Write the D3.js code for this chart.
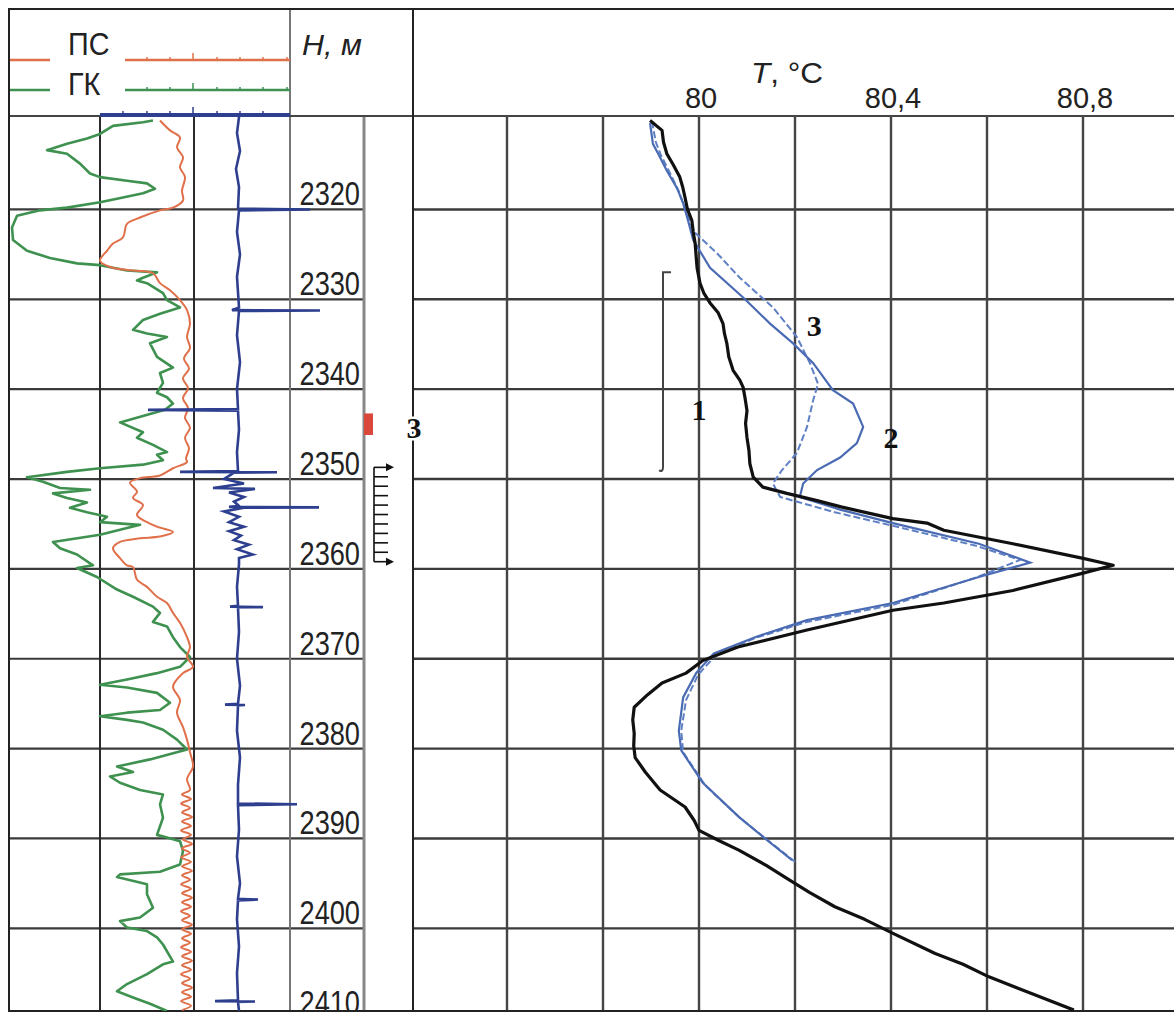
<!DOCTYPE html>
<html>
<head>
<meta charset="utf-8">
<title>Термограммы</title>
<script src="https://cdn.jsdelivr.net/npm/d3@7"></script>
<style>
  body { margin: 0; background: #fff; }
  svg text { font-family: "Liberation Sans", Arial, sans-serif; fill: #222; }
  svg text.num { font-family: "Liberation Serif", serif; font-weight: bold; fill: #111; }
</style>
</head>
<body>
<div id="chart"></div>
<script>

// depth grid (m) and temperature grid (°C)
var depthTicks = [2320, 2330, 2340, 2350, 2360, 2370, 2380, 2390, 2400, 2410];
var tempGrid = [79.6, 79.8, 80, 80.2, 80.4, 80.6, 80.8];
var tempLabels = [80, 80.4, 80.8];
var logGrid = [9.1, 18.5];

// ГК (gamma log), relative units, [depth, value]
var gk = [[2310.1,14.4],[2310.3,13.4],[2310.7,10.4],[2311.6,9.1],[2312.1,7.8],[2312.7,5.8],[2313.4,3.8],
  [2313.8,5.8],[2314.9,7.1],[2316.0,8.1],[2316.4,9.1],[2316.8,11.8],[2317.1,13.8],[2317.7,14.6],[2318.2,13.4],
  [2318.8,10.8],[2319.2,9.1],[2319.8,5.8],[2320.1,3.1],[2320.7,0.8],[2322.0,0.3],[2323.4,0.4],[2324.6,1.8],
  [2325.4,4.1],[2326.0,6.8],[2326.2,9.1],[2326.8,11.8],[2327.0,14.8],[2327.6,13.4],[2327.9,12.8],[2328.2,13.8],
  [2329.3,15.4],[2330.1,15.8],[2330.9,17.1],[2331.6,15.1],[2332.3,13.4],[2333.4,12.4],[2333.8,13.8],[2334.2,15.8],
  [2334.9,14.1],[2336.4,14.8],[2337.6,16.4],[2338.2,15.1],[2339.3,15.4],[2340.4,14.8],[2340.9,15.8],[2341.6,16.4],
  [2342.3,15.6],[2343.7,11.1],[2344.8,13.4],[2345.4,12.8],[2346.2,14.4],[2347.0,15.8],[2347.3,14.8],[2347.9,15.4],
  [2348.4,13.4],[2348.8,9.1],[2349.2,5.8],[2349.8,1.8],[2350.3,3.4],[2351.0,5.1],[2351.2,8.1],[2351.6,4.4],
  [2352.1,5.8],[2352.6,7.8],[2353.2,6.1],[2353.7,7.8],[2354.2,9.8],[2354.8,9.1],[2355.1,13.1],[2356.2,9.1],
  [2357.0,4.4],[2357.7,5.1],[2358.4,6.8],[2359.6,8.4],[2359.9,6.8],[2360.9,8.8],[2362.3,10.8],[2363.1,12.4],
  [2364.2,14.4],[2364.9,15.1],[2365.9,14.4],[2366.4,15.8],[2367.6,16.4],[2368.7,17.1],[2369.8,18.1],[2370.9,17.1],
  [2371.6,14.8],[2372.3,11.8],[2372.9,9.1],[2373.2,11.8],[2373.8,14.8],[2374.9,16.1],[2375.7,15.1],[2376.0,11.8],
  [2376.4,9.1],[2376.8,11.8],[2377.1,13.4],[2377.9,15.4],[2379.0,16.8],[2380.1,17.8],[2381.2,14.1],[2382.0,10.8],
  [2382.6,12.4],[2383.1,10.1],[2383.8,11.1],[2384.6,13.1],[2385.1,15.4],[2386.2,15.1],[2387.7,15.4],[2389.6,14.8],
  [2389.9,15.8],[2390.3,17.1],[2391.4,17.4],[2392.9,17.1],[2393.7,15.1],[2394.0,11.1],[2394.3,10.8],[2395.1,13.8],
  [2396.2,13.8],[2397.7,14.4],[2398.8,13.1],[2399.2,11.1],[2399.9,11.8],[2400.3,13.8],[2401.0,14.8],[2401.8,15.4],
  [2403.7,16.4],[2404.0,15.4],[2405.1,13.8],[2406.2,11.8],[2407.0,10.8],[2407.7,12.4],[2408.4,14.1],[2409.2,15.8]];

// ПС (SP log), relative units, [depth, value]
var ps = [[2310.1,15.1],[2311.2,16.1],[2312.0,17.1],[2313.1,16.8],[2314.2,17.4],[2315.3,17.1],[2316.4,17.6],
  [2317.9,17.3],[2319.0,17.4],[2319.8,16.4],[2320.1,15.1],[2320.9,13.1],[2321.6,11.8],[2323.1,11.4],[2323.8,10.4],
  [2324.6,9.8],[2325.7,9.1],[2326.4,10.1],[2326.8,12.4],[2327.1,14.4],[2328.2,15.1],[2329.0,16.1],[2330.1,17.1],
  [2331.2,17.8],[2332.7,18.1],[2334.2,17.8],[2335.4,18.1],[2336.6,17.5],[2337.7,18.0],[2338.8,17.4],[2339.9,17.9],
  [2341.0,17.4],[2342.1,17.9],[2343.2,17.6],[2344.3,18.1],[2345.4,17.6],[2346.6,18.0],[2347.7,17.7],[2348.1,17.8],
  [2348.8,16.4],[2349.6,15.1],[2349.9,13.1],[2350.4,12.1],[2351.4,12.8],[2352.1,12.4],[2352.9,13.4],[2354.0,12.8],
  [2354.8,13.8],[2355.3,14.8],[2355.9,16.4],[2356.4,15.1],[2356.6,13.1],[2357.0,11.1],[2357.7,10.4],[2358.8,11.1],
  [2359.6,11.8],[2359.8,12.4],[2361.2,12.8],[2362.0,13.8],[2363.1,14.8],[2363.8,15.8],[2364.9,16.4],[2366.0,17.1],
  [2367.6,17.8],[2368.7,18.1],[2369.8,17.8],[2370.9,18.4],[2371.6,17.4],[2373.1,16.4],[2374.6,17.1],[2376.0,16.8],
  [2377.6,17.4],[2379.0,17.8],[2380.4,18.1],[2382.0,18.4],[2383.4,17.8],[2384.6,18.1],[2385.1,17.3],[2385.6,18.2],
  [2386.1,17.2],[2386.6,18.1],[2387.1,17.3],[2387.6,18.3],[2388.1,17.3],[2388.6,18.2],[2389.1,17.2],[2389.6,18.2],
  [2390.1,17.4],[2390.6,18.3],[2391.1,17.3],[2391.6,18.1],[2392.1,17.2],[2392.6,18.2],[2393.1,17.3],[2393.6,18.3],
  [2394.1,17.3],[2394.6,18.1],[2395.1,17.2],[2395.6,18.2],[2396.1,17.3],[2396.6,18.3],[2397.1,17.3],[2397.6,18.2],
  [2398.1,17.2],[2398.6,18.1],[2399.1,17.3],[2399.6,18.3],[2400.1,17.3],[2400.6,18.2],[2401.1,17.3],[2401.6,18.1],
  [2402.1,17.2],[2402.6,18.2],[2403.1,17.3],[2403.6,18.3],[2404.1,17.3],[2404.6,18.2],[2405.1,17.2],[2405.6,18.1],
  [2406.1,17.3],[2406.6,18.3],[2407.1,17.3],[2407.6,18.2],[2408.1,17.2],[2408.6,18.2],[2409.1,17.3]];

// third log (blue), relative units, [depth, value]
var bk = [[2309.7,23.0],[2311.5,22.8],[2313.5,23.1],[2315.5,22.7],[2317.5,23.0],[2319.9,22.9],[2320.0,30.1],
  [2320.1,23.0],[2322.5,22.8],[2325.0,23.1],[2327.5,22.8],[2330.9,23.0],[2331.2,22.3],[2331.25,31.1],[2331.3,23.0],
  [2334.0,22.8],[2337.0,23.1],[2340.0,22.8],[2342.2,22.9],[2342.3,13.9],[2342.4,22.9],[2344.5,23.0],[2347.0,22.8],
  [2349.1,22.9],[2349.2,17.1],[2349.25,26.8],[2349.3,22.5],[2350.0,21.5],[2350.5,23.5],[2351.0,20.4],[2351.1,24.6],
  [2351.5,22.0],[2352.0,23.5],[2352.5,22.5],[2353.0,23.0],[2353.1,22.0],[2353.15,31.0],[2353.2,23.5],[2353.6,21.5],
  [2354.2,23.0],[2354.8,22.0],[2355.3,23.5],[2355.8,22.0],[2356.3,23.2],[2356.8,22.5],[2357.3,24.0],[2357.8,22.8],
  [2358.4,24.4],[2358.8,23.0],[2359.5,23.0],[2362.0,22.8],[2364.1,22.9],[2364.2,22.1],[2364.25,25.4],[2364.3,22.9],
  [2367.0,23.0],[2370.0,22.8],[2373.0,23.1],[2375.0,22.9],[2375.1,21.6],[2375.15,23.6],[2375.2,22.9],[2378.0,22.8],
  [2381.0,23.1],[2384.0,22.9],[2386.1,22.9],[2386.2,28.8],[2386.3,22.9],[2389.0,23.0],[2392.0,22.8],[2395.0,23.1],
  [2396.7,22.9],[2396.8,24.9],[2396.9,22.9],[2399.0,22.8],[2402.0,23.0],[2405.0,22.8],[2408.0,22.9],[2408.1,20.6],
  [2408.15,24.6],[2408.2,22.9],[2409.2,23.0]];

// thermograms, [depth, T]
var curve1 = [[2310.1,79.898],[2311.2,79.923],[2312.5,79.926],[2313.8,79.933],[2315.0,79.946],[2316.4,79.960],
  [2317.5,79.966],[2318.7,79.971],[2320.0,79.976],[2321.2,79.985],[2322.5,79.988],[2323.8,79.992],[2325.2,79.994],
  [2326.5,79.996],[2328.2,80.002],[2329.3,80.010],[2330.4,80.023],[2331.5,80.040],[2332.7,80.050],[2333.8,80.053],
  [2334.9,80.058],[2336.4,80.062],[2337.9,80.071],[2339.0,80.085],[2339.8,80.092],[2341.0,80.096],[2342.4,80.100],
  [2343.8,80.097],[2345.4,80.100],[2346.8,80.104],[2348.3,80.106],[2349.8,80.113],[2350.9,80.133],[2351.6,80.183],
  [2352.4,80.246],[2353.1,80.296],[2354.4,80.404],[2354.9,80.475],[2355.7,80.510],[2357.2,80.654],[2358.8,80.798],
  [2359.6,80.863],[2360.5,80.798],[2362.4,80.654],[2363.8,80.510],[2364.6,80.404],[2366.8,80.225],[2368.7,80.081],
  [2370.2,80.008],[2371.6,79.973],[2372.7,79.923],[2374.0,79.893],[2375.4,79.865],[2376.8,79.862],[2378.3,79.865],
  [2379.7,79.864],[2381.0,79.867],[2382.6,79.888],[2384.6,79.919],[2386.5,79.971],[2388.0,79.990],[2389.1,80.000],
  [2390.2,80.040],[2391.3,80.083],[2393.0,80.140],[2394.6,80.188],[2396.0,80.230],[2397.6,80.283],[2399.0,80.345],
  [2400.5,80.402],[2402.8,80.492],[2404.0,80.550],[2405.4,80.604],[2407.2,80.690],[2409.1,80.781]];
var curve2 = [[2310.4,79.898],[2312.7,79.904],[2313.8,79.915],[2315.7,79.933],[2317.6,79.954],[2319.3,79.967],
  [2321.2,79.977],[2323.4,79.988],[2326.5,80.023],[2329.8,80.092],[2332.7,80.148],[2334.9,80.196],[2337.1,80.238],
  [2340.1,80.279],[2341.6,80.321],[2344.2,80.342],[2346.0,80.329],[2347.6,80.294],[2349.0,80.246],[2350.5,80.217],
  [2352.0,80.210],[2353.4,80.294],[2354.9,80.404],[2357.2,80.583],[2359.3,80.690],[2360.9,80.583],[2363.8,80.404],
  [2365.7,80.225],[2367.6,80.117],[2369.4,80.031],[2371.6,79.994],[2374.3,79.967],[2378.0,79.958],[2380.2,79.963],
  [2383.8,80.008],[2387.6,80.083],[2390.2,80.142],[2392.4,80.194]];
var curve3 = [[2310.2,79.902],[2312.5,79.910],[2314.0,79.921],[2316.0,79.940],[2318.0,79.958],[2320.0,79.971],
  [2322.5,79.990],[2324.9,80.038],[2327.6,80.085],[2330.9,80.154],[2334.2,80.204],[2337.1,80.231],[2339.4,80.248],
  [2341.2,80.238],[2344.2,80.225],[2347.1,80.204],[2349.0,80.173],[2350.5,80.154],[2352.0,80.169],[2353.7,80.283],
  [2355.2,80.404],[2357.4,80.575],[2359.0,80.669],[2361.0,80.575],[2364.0,80.404],[2365.9,80.225],[2367.7,80.117],
  [2369.6,80.035],[2371.8,79.998],[2374.6,79.973],[2378.0,79.963],[2380.4,79.967],[2384.1,80.013],[2387.7,80.085],
  [2390.4,80.148],[2392.6,80.200]];

var interval1 = [2327.0, 2348.7];   // bracket "1"
var perf = [2348.7, 2359.2];        // perforation comb
var marker3 = [2342.7, 2345.1];     // red mark "3"
var curveLabels = [
  {text: "1", t: 80.00, d: 2343.4},
  {text: "3", t: 80.24, d: 2334.1},
  {text: "2", t: 80.40, d: 2346.5}
];

var width = 1174, height = 1012;
var yTop = 116, yBot = 1011;

var y = d3.scaleLinear().domain([2309.6, 2409.2]).range([yTop, yBot]);
var xLog = d3.scaleLinear().domain([0, 28.1]).range([9, 290]);
var xT = d3.scaleLinear().domain([79.4, 81]).range([411, 1179]);

var svg = d3.select("#chart").append("svg")
    .attr("width", width)
    .attr("height", height);

svg.append("rect").attr("width", width).attr("height", height).attr("fill", "#fff");

// squeezed Liberation Sans to look like the narrow font of the original
function narrowText(g, x, yy, size, txt, anchor, italic, sx) {
  var t = g.append("text")
    .attr("transform", "translate(" + x + "," + yy + ") scale(" + (sx || 0.8) + ",1)")
    .attr("font-size", size)
    .attr("text-anchor", anchor || "start")
    .text(txt);
  if (italic) t.attr("font-style", "italic");
  return t;
}

var defs = svg.append("defs");
defs.append("clipPath").attr("id", "clipR")
  .append("rect").attr("x", 413).attr("y", yTop).attr("width", width - 413).attr("height", yBot - yTop);
defs.append("clipPath").attr("id", "clipL")
  .append("rect").attr("x", 9).attr("y", yTop).attr("width", 360).attr("height", yBot - yTop);

var grid = svg.append("g");

// horizontal depth lines
depthTicks.forEach(function(d) {
  if (y(d) > yBot) return;
  grid.append("line").attr("x1", 9).attr("x2", 364).attr("y1", y(d)).attr("y2", y(d))
    .attr("stroke", "#3a3a3a").attr("stroke-width", 2.2);
  grid.append("line").attr("x1", 413).attr("x2", width).attr("y1", y(d)).attr("y2", y(d))
    .attr("stroke", "#3a3a3a").attr("stroke-width", 2.4);
});

// log track verticals
logGrid.forEach(function(v) {
  grid.append("line").attr("x1", xLog(v)).attr("x2", xLog(v)).attr("y1", yTop).attr("y2", yBot)
    .attr("stroke", "#2a2a2a").attr("stroke-width", 2);
});
grid.append("line").attr("x1", 290).attr("x2", 290).attr("y1", 9).attr("y2", yBot)
  .attr("stroke", "#777").attr("stroke-width", 2);
grid.append("line").attr("x1", 364).attr("x2", 364).attr("y1", yTop).attr("y2", yBot)
  .attr("stroke", "#888").attr("stroke-width", 3);

// temperature verticals
tempGrid.forEach(function(t) {
  grid.append("line").attr("x1", xT(t)).attr("x2", xT(t)).attr("y1", yTop).attr("y2", yBot)
    .attr("stroke", "#444").attr("stroke-width", 2.4);
});

// frame
grid.append("line").attr("x1", 9).attr("x2", width).attr("y1", yTop).attr("y2", yTop)
  .attr("stroke", "#444").attr("stroke-width", 2);
grid.append("line").attr("x1", 8).attr("x2", width).attr("y1", 9).attr("y2", 9)
  .attr("stroke", "#222").attr("stroke-width", 2);
grid.append("line").attr("x1", 8).attr("x2", width).attr("y1", yBot).attr("y2", yBot)
  .attr("stroke", "#222").attr("stroke-width", 2);
grid.append("line").attr("x1", 9).attr("x2", 9).attr("y1", 9).attr("y2", yBot)
  .attr("stroke", "#222").attr("stroke-width", 2);
grid.append("line").attr("x1", 413).attr("x2", 413).attr("y1", 9).attr("y2", yBot)
  .attr("stroke", "#222").attr("stroke-width", 2);

// ---- header of the log track
var hdr = svg.append("g");
var legend = [{name: "ПС", color: "#e0704a", yy: 60, ty: 55},
              {name: "ГК", color: "#3f9150", yy: 90, ty: 95}];
var headTicks = [13.8, 16.1, 18.4, 20.8, 23.1, 25.4, 27.8];
legend.forEach(function(l) {
  hdr.append("line").attr("x1", 10).attr("x2", 50).attr("y1", l.yy).attr("y2", l.yy)
    .attr("stroke", l.color).attr("stroke-width", 2.5);
  hdr.append("line").attr("x1", 125).attr("x2", 290).attr("y1", l.yy).attr("y2", l.yy)
    .attr("stroke", l.color).attr("stroke-width", 2.5);
  headTicks.forEach(function(v, i) {
    hdr.append("line").attr("x1", xLog(v)).attr("x2", xLog(v))
      .attr("y1", l.yy).attr("y2", l.yy - (i == 2 ? 7 : 3))
      .attr("stroke", l.color).attr("stroke-width", 1.5);
  });
  narrowText(hdr, 68, l.ty, 32, l.name, "start", false, 0.9);
});
hdr.append("line").attr("x1", xLog(9.1)).attr("x2", 290).attr("y1", yTop - 1).attr("y2", yTop - 1)
  .attr("stroke", "#2e3f8f").attr("stroke-width", 4);
[11.4, 13.8, 16.1, 18.4, 20.8, 23.1, 25.4].forEach(function(v, i) {
  hdr.append("line").attr("x1", xLog(v)).attr("x2", xLog(v)).attr("y1", yTop).attr("y2", yTop - (i == 3 ? 9 : 5))
    .attr("stroke", "#2e3f8f").attr("stroke-width", 1.5);
});
narrowText(hdr, 302, 55, 29, "H, м", "start", true, 1.05);

// ---- header of the thermogram
var th = narrowText(hdr, 751, 83, 30, "", "start", false, 1.05);
th.append("tspan").attr("font-style", "italic").text("T");
th.append("tspan").text(", °C");
tempLabels.forEach(function(t) {
  narrowText(hdr, xT(t) + 2, 108, 29, String(t).replace(".", ","), "middle", false, 1);
});

// depth labels
depthTicks.forEach(function(d) {
  narrowText(svg, 360, y(d) - 4, 34, d, "end");
});

// ---- log curves
var logLine = d3.line().x(function(p) { return xLog(p[1]); }).y(function(p) { return y(p[0]); });
var logs = svg.append("g").attr("clip-path", "url(#clipL)");
logs.append("path").datum(gk).attr("d", logLine).attr("fill", "none")
  .attr("stroke", "#3f9150").attr("stroke-width", 2.6).attr("stroke-linejoin", "round");
logs.append("path").datum(ps).attr("d", logLine.curve(d3.curveCatmullRom)).attr("fill", "none")
  .attr("stroke", "#e0704a").attr("stroke-width", 2).attr("stroke-linejoin", "round");
logs.append("path").datum(bk).attr("d", logLine.curve(d3.curveLinear)).attr("fill", "none")
  .attr("stroke", "#2e3f8f").attr("stroke-width", 2.6);

// red mark and perforation comb
svg.append("rect").attr("x", 364).attr("y", y(marker3[0])).attr("width", 9)
  .attr("height", y(marker3[1]) - y(marker3[0])).attr("fill", "#d9483b");
var comb = svg.append("g").attr("stroke", "#111").attr("stroke-width", 1.6);
comb.append("line").attr("x1", 374).attr("x2", 374).attr("y1", y(perf[0])).attr("y2", y(perf[1]));
var combTicks = d3.range(11).map(function(i) { return perf[0] + i * (perf[1] - perf[0]) / 10; });
combTicks.forEach(function(d, i) {
  var end = (i == 0 || i == 10) ? 390 : 388;
  comb.append("line").attr("x1", 374).attr("x2", end).attr("y1", y(d)).attr("y2", y(d));
  if (i == 0 || i == 10) {
    svg.append("path").attr("fill", "#111")
      .attr("d", "M" + 394 + "," + y(d) + "L" + 386 + "," + (y(d) - 4) + "L" + 386 + "," + (y(d) + 4) + "Z");
  }
});
svg.append("text").attr("class", "num").attr("x", 414).attr("y", y(2345.4)).attr("font-size", 30)
  .attr("text-anchor", "middle").attr("stroke", "#fff").attr("stroke-width", 5)
  .attr("paint-order", "stroke").text("3");

// ---- thermograms
var tLine = d3.line().x(function(p) { return xT(p[1]); }).y(function(p) { return y(p[0]); });
var therm = svg.append("g").attr("clip-path", "url(#clipR)").attr("fill", "none");
therm.append("path").datum(curve3).attr("d", tLine).attr("stroke", "#5f80c4")
  .attr("stroke-width", 2).attr("stroke-dasharray", "7,3");
therm.append("path").datum(curve2).attr("d", tLine).attr("stroke", "#4a6bb3").attr("stroke-width", 2.2);
therm.append("path").datum(curve1).attr("d", tLine).attr("stroke", "#111").attr("stroke-width", 3.2)
  .attr("stroke-linejoin", "round");

// bracket "1"
var bx = xT(79.925);
svg.append("path").attr("fill", "none").attr("stroke", "#444").attr("stroke-width", 2)
  .attr("d", "M" + (bx + 8) + "," + y(interval1[0]) + "H" + bx + "V" + y(interval1[1]) +
    "q0,5 -4,3");

curveLabels.forEach(function(l) {
  svg.append("text").attr("class", "num").attr("x", xT(l.t)).attr("y", y(l.d))
    .attr("font-size", 30).attr("text-anchor", "middle").text(l.text);
});

</script>
</body>
</html>
